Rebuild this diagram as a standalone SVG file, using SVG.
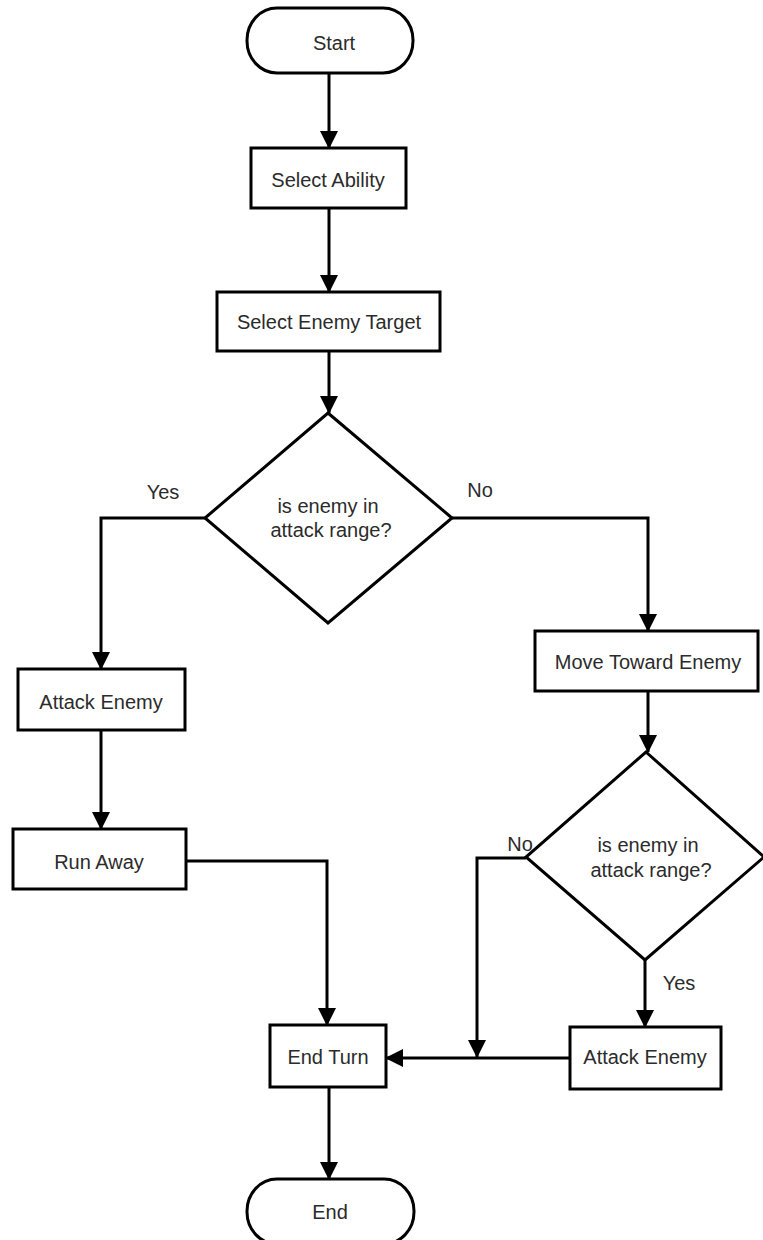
<svg xmlns="http://www.w3.org/2000/svg" width="763" height="1240" viewBox="0 0 763 1240">
<style>
.shape{fill:#fff;stroke:#000;stroke-width:3}
.conn{fill:none;stroke:#000;stroke-width:3}
text{font-family:"Liberation Sans",Arial,sans-serif;font-size:20px;fill:#2b2b2b;text-anchor:middle}
</style>
<defs>
<marker id="arr" markerUnits="userSpaceOnUse" markerWidth="18" markerHeight="18" refX="17" refY="9" orient="auto">
<path d="M0,0 L18,9 L0,18 Z" fill="#000"/>
</marker>
</defs>
<rect width="763" height="1240" fill="#fff"/>
<g id="connectors">
<path class="conn" d="M329,73 V148" marker-end="url(#arr)"/>
<path class="conn" d="M329,208 V292" marker-end="url(#arr)"/>
<path class="conn" d="M329,351 V413" marker-end="url(#arr)"/>
<path class="conn" d="M205,518 H101 V669" marker-end="url(#arr)"/>
<path class="conn" d="M101,730 V829" marker-end="url(#arr)"/>
<path class="conn" d="M186,861 H327 V1025" marker-end="url(#arr)"/>
<path class="conn" d="M452,518 H648 V631" marker-end="url(#arr)"/>
<path class="conn" d="M648,691 V752" marker-end="url(#arr)"/>
<path class="conn" d="M526,858 H477 V1057" marker-end="url(#arr)"/>
<path class="conn" d="M645,960 V1027" marker-end="url(#arr)"/>
<path class="conn" d="M570,1058 H386" marker-end="url(#arr)"/>
<path class="conn" d="M329,1087 V1179" marker-end="url(#arr)"/>
<text x="163" y="499">Yes</text>
<text x="480" y="497">No</text>
<text x="520" y="851">No</text>
<text x="679" y="990">Yes</text>
</g>
<g id="start">
<rect class="shape" x="247" y="8" width="166" height="65" rx="30" ry="32"/>
<text x="334" y="50">Start</text>
</g>
<g id="select-ability">
<rect class="shape" x="251" y="148" width="155" height="60"/>
<text x="328" y="187">Select Ability</text>
</g>
<g id="select-enemy-target">
<rect class="shape" x="217" y="292" width="223" height="59"/>
<text x="329" y="329">Select Enemy Target</text>
</g>
<g id="decision-1">
<polygon class="shape" points="328,413 452,518 328,623 205,518"/>
<text x="328" y="513">is enemy in</text>
<text x="331" y="537">attack range?</text>
</g>
<g id="attack-enemy-left">
<rect class="shape" x="18" y="669" width="167" height="61"/>
<text x="101" y="709">Attack Enemy</text>
</g>
<g id="run-away">
<rect class="shape" x="13" y="829" width="173" height="60"/>
<text x="99" y="869">Run Away</text>
</g>
<g id="move-toward-enemy">
<rect class="shape" x="535" y="631" width="223" height="60"/>
<text x="648" y="669">Move Toward Enemy</text>
</g>
<g id="decision-2">
<polygon class="shape" points="646,752 764,857 645,960 526,857"/>
<text x="648" y="852">is enemy in</text>
<text x="651" y="877">attack range?</text>
</g>
<g id="attack-enemy-right">
<rect class="shape" x="570" y="1027" width="151" height="62"/>
<text x="645" y="1064">Attack Enemy</text>
</g>
<g id="end-turn">
<rect class="shape" x="270" y="1025" width="116" height="62"/>
<text x="328" y="1064">End Turn</text>
</g>
<g id="end">
<rect class="shape" x="247" y="1179" width="167" height="65" rx="30" ry="32"/>
<text x="330" y="1219">End</text>
</g>
</svg>
